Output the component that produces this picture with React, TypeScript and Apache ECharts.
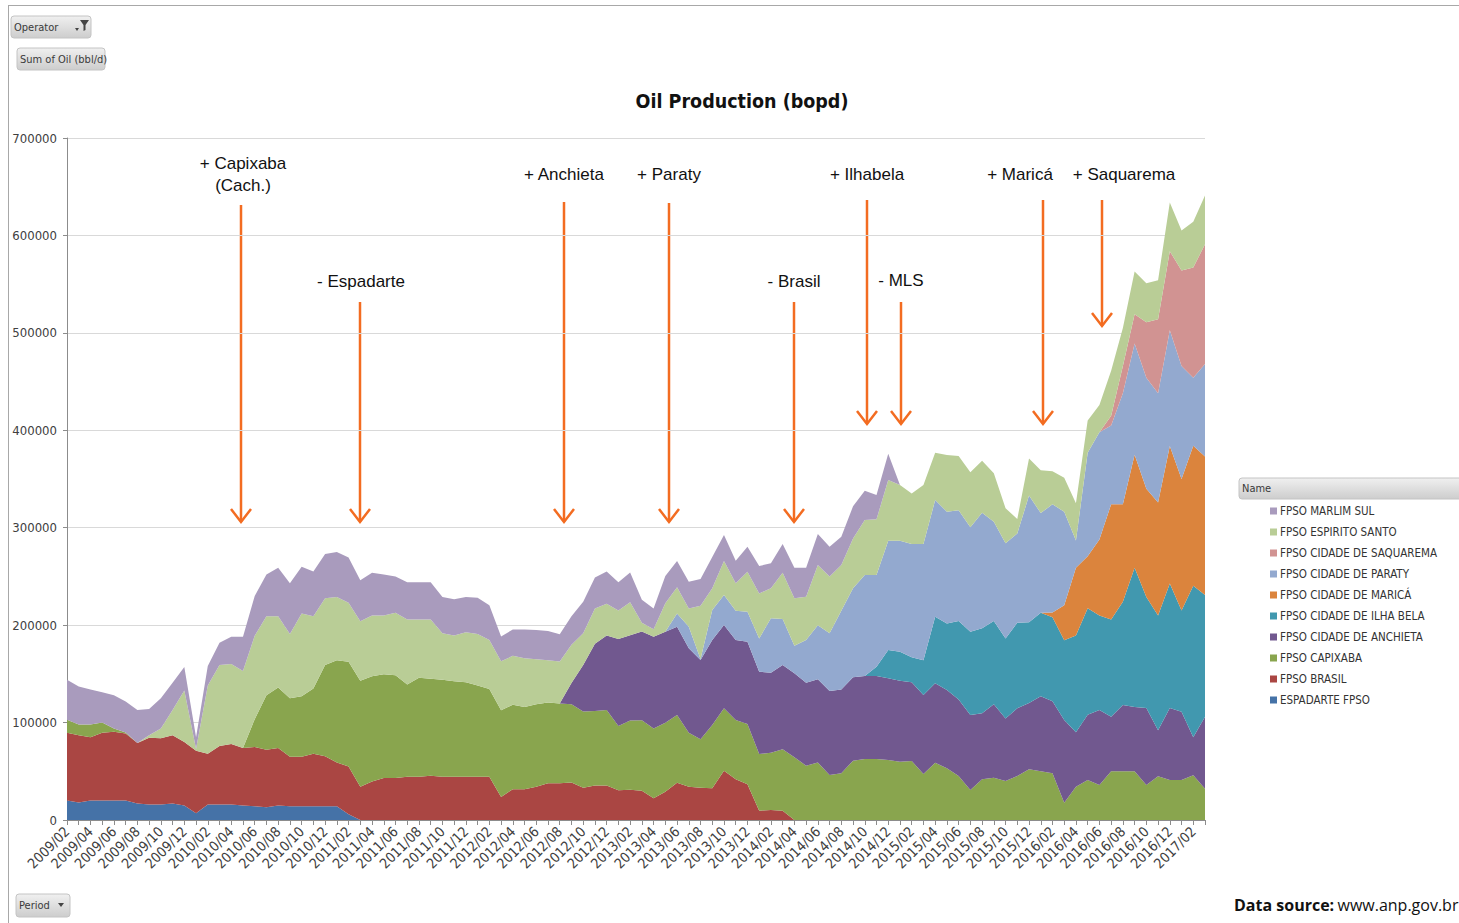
import React, { useEffect, useRef } from "react";
import * as echarts from "echarts";

const months = [
  "2009/02","2009/03","2009/04","2009/05","2009/06","2009/07","2009/08","2009/09","2009/10","2009/11","2009/12",
  "2010/01","2010/02","2010/03","2010/04","2010/05","2010/06","2010/07","2010/08","2010/09","2010/10","2010/11","2010/12",
  "2011/01","2011/02","2011/03","2011/04","2011/05","2011/06","2011/07","2011/08","2011/09","2011/10","2011/11","2011/12",
  "2012/01","2012/02","2012/03","2012/04","2012/05","2012/06","2012/07","2012/08","2012/09","2012/10","2012/11","2012/12",
  "2013/01","2013/02","2013/03","2013/04","2013/05","2013/06","2013/07","2013/08","2013/09","2013/10","2013/11","2013/12",
  "2014/01","2014/02","2014/03","2014/04","2014/05","2014/06","2014/07","2014/08","2014/09","2014/10","2014/11","2014/12",
  "2015/01","2015/02","2015/03","2015/04","2015/05","2015/06","2015/07","2015/08","2015/09","2015/10","2015/11","2015/12",
  "2016/01","2016/02","2016/03","2016/04","2016/05","2016/06","2016/07","2016/08","2016/09","2016/10","2016/11","2016/12",
  "2017/01","2017/02","2017/03"
];

// values in thousand bbl/d
const espadarte = [
  20,18,20,20,20,20,17,16,16,17,15,7,16,16,16,15,14,13,15,14,14,14,14,14,6,
  0,0,0,0,0,0,0,0,0,0,0,0,0,0,0,0,0,0,0,0,0,0,0,0,0,0,0,0,0,0,0,0,0,0,0,0,
  0,0,0,0,0,0,0,0,0,0,0,0,0,0,0,0,0,0,0,0,0,0,0,0,0,0,0,0,0,0,0,0,0,0,0,0,0
];
const brasil = [
  69.6,69,65,69.6,70.5,68.7,62,68.5,68,70,
  65,64,52,60,62,59,61,59,59,51,
  51,54,51.5,45,49,34,39.5,43,43,44.5,
  44.5,45.5,44.5,44.5,44.5,44.5,44.5,23.7,31.6,31.6,
  34,37.6,37.6,38.5,33,35.3,35.3,30.6,31,30,
  22.2,29.1,38.3,34.2,33.2,32.5,50.6,41.7,36.6,9.6,
  10.3,9.6,
  0,0,0,0,0,0,0,0,0,0,0,0,0,0,0,0,0,0,0,0,0,0,0,0,0,0,0,0,0,0,0,0,0,0,0,0
];
const capixaba = [
  13.4,11,13,10.4,3.5,1,0,0,0,0,
  0,0,0,0,0,0,28.5,56,62,60,
  62,67,93.5,105,107.5,109,108,106.5,105.6,94.5,
  101.5,99.5,99.5,98,97,93.5,90,89,86.8,84.4,
  84.8,83,82,80.3,78.4,76.6,77.5,66,71,72.3,
  71.8,70.8,69.5,55.4,49.6,65,64,60.9,61.9,58.1,
  58.8,62.9,64.3,55.8,59,46.2,47.9,60.9,62.6,62.6,
  61.6,59.9,60.6,47.2,58.8,53,45.2,30.8,41.7,43.4,
  40,45.2,52,50,48,17.6,34,41,36,50,
  50,50,36,45,41,41,46,32
];
const anchieta = [
  0,0,0,0,0,0,0,0,0,0,0,0,0,0,0,0,0,0,0,0,0,0,0,0,0,0,0,0,0,0,0,0,0,0,0,0,0,0,0,0,0,0,0,
  21.9,47.6,69.1,76.6,89.1,87.6,91.3,
  94.2,93.4,90.6,86.6,81.4,87.2,85.5,82.1,84.5,84.5,
  82.1,86.6,86.2,85.2,85.5,86.3,86.1,85.5,85.2,85.2,
  83.8,83.1,80.7,81.1,81.5,80.4,78.6,77,67.8,75.3,
  64.3,69.4,68,77,74,85,56,67,77,56,
  68,66,79,47,74,70,39,74
];
const ilhaBela = [
  0,0,0,0,0,0,0,0,0,0,0,0,0,0,0,0,0,0,0,0,0,0,0,0,0,0,0,0,0,0,0,0,0,0,0,0,0,0,0,0,
  0,0,0,0,0,0,0,0,0,0,0,0,0,0,0,0,0,0,0,0,0,0,0,0,0,0,0,0,0,
  9.6,
  29.1,29.8,25.7,35.7,68.4,68.4,80.4,85.5,87.2,85.5,
  82.1,87.9,83,85.6,86,81.8,99.4,109.3,97,99.7,
  106,143,114,118,127.8,104,155.5,125
];
const marica = [
  0,0,0,0,0,0,0,0,0,0,0,0,0,0,0,0,0,0,0,0,0,0,0,0,0,0,0,0,0,0,0,0,0,0,0,0,0,0,0,0,0,0,
  0,0,0,0,0,0,0,0,0,0,0,0,0,0,0,0,0,0,0,0,0,0,0,0,0,0,0,0,0,0,0,0,0,0,0,0,0,0,0,0,0,0,
  5,36,69.6,53.4,78,118.3,
  100,116,111,116,141,135,143.5,142
];
const paraty = [
  0,0,0,0,0,0,0,0,0,0,0,0,0,0,0,0,0,0,0,0,0,0,0,0,0,0,
  0,0,0,0,0,0,0,0,0,0,0,0,0,0,0,0,0,0,0,0,0,0,0,0,0,0,
  13.6,22.2,1,30.8,30.9,30.1,30.8,34.2,
  55.8,47.2,28.4,43.7,55.5,59.1,80.8,91.4,103.6,94,
  112.2,113.9,116.3,119.3,119.7,114.6,113.8,107.1,118.7,101.8,
  97.6,91.5,130,102.4,111,96,28,106.3,110,81,
  114,114,114,112,119,116,70,95
];
const saquarema = [
  0,0,0,0,0,0,0,0,0,0,0,0,0,0,0,0,0,0,0,0,0,0,0,0,0,0,0,0,0,0,
  0,0,0,0,0,0,0,0,0,0,0,0,0,0,0,0,0,0,0,0,0,0,0,0,0,0,0,0,0,0,
  0,0,0,0,0,0,0,0,0,0,0,0,0,0,0,0,0,0,0,0,0,0,0,0,0,0,0,0,0,
  10,28,30,57,76,81,98,113,123
];
const espiritoSanto = [
  0,0,0,0,0,0,0,2.5,10,26,
  53,2,70,83,82,79,85.5,81,73,66,
  85,74,68.5,65,60.5,61,62.4,60.5,64,66.7,
  59.7,60.7,47.7,46.9,51.1,53,50.2,50.2,50.1,50,
  46.2,43.3,43.2,39.3,32.7,36,32.6,29.3,33.9,8.8,
  7.5,29.1,26.8,18.8,54.7,22.3,34.8,28.2,41.1,46.2,
  30.8,47.5,48.6,44.5,61.7,58.4,46.9,51.2,56.6,57.2,
  62.3,57.1,51.7,60.5,48.6,58.2,55.6,56.4,53.4,49.8,
  35.9,15,38,44,34,35,38,33,28,46,
  39,44,40,40,50,41,47,50
];
const marlimSul = [
  41,39,36,31,34,32,34,27,31,28,
  24,12,20,23,28,35,41,43,50,52,
  48,46,45.5,46,46.5,42,44,42,37.4,38.3,
  38.3,38.3,37.3,37.2,36.3,37,35.7,25.5,27,29.5,
  30,30,27.8,29,32.3,32,33,29,30.5,23.6,
  21.3,28,27,27.4,27.4,32.2,26.7,23,25.6,28.1,
  25.6,29.5,31.5,29.8,31.8,30.5,29.1,33,30,24.9,
  27,
  0,0,0,0,0,0,0,0,0,0,0,0,0,0,0,0,0,0,0,0,0,0,0,0,0,0,0
];

const seriesNames = [
  "ESPADARTE FPSO","FPSO BRASIL","FPSO CAPIXABA","FPSO CIDADE DE ANCHIETA","FPSO CIDADE DE ILHA BELA",
  "FPSO CIDADE DE MARICÁ","FPSO CIDADE DE PARATY","FPSO CIDADE DE SAQUAREMA","FPSO ESPIRITO SANTO","FPSO MARLIM SUL"
];
const seriesValues = [espadarte, brasil, capixaba, anchieta, ilhaBela, marica, paraty, saquarema, espiritoSanto, marlimSul];
const seriesColors = ["#4572A7","#AA4643","#89A54E","#71588F","#4198AF","#DB843D","#93A9CF","#D19392","#B9CD96","#A99BBD"];

const yTicks = { min: 0, max: 700000, interval: 100000 };

// annotation layout (pixels)
const annotations = [
  { text: "+ Capixaba\n(Cach.)", tx: 243, ty: 152, ax: 241, a1: 205, a2: 522 },
  { text: "- Espadarte", tx: 361, ty: 270, ax: 360, a1: 302, a2: 522 },
  { text: "+ Anchieta", tx: 564, ty: 163, ax: 564, a1: 202, a2: 522 },
  { text: "+ Paraty", tx: 669, ty: 163, ax: 669, a1: 203, a2: 522 },
  { text: "- Brasil", tx: 794, ty: 270, ax: 794, a1: 302, a2: 522 },
  { text: "+ Ilhabela", tx: 867, ty: 163, ax: 867, a1: 200, a2: 424 },
  { text: "- MLS", tx: 901, ty: 269, ax: 901, a1: 302, a2: 424 },
  { text: "+ Maricá", tx: 1020, ty: 163, ax: 1043, a1: 200, a2: 424 },
  { text: "+ Saquarema", tx: 1124, ty: 163, ax: 1102, a1: 200, a2: 326 },
];

const NARROW = "'Liberation Sans Narrow', 'DejaVu Sans Condensed', 'Roboto', sans-serif";
const ARROW = "#F36C21";

function button(x: number, y: number, w: number, h: number, label: string, extra: any[] = []) {
  return {
    type: "group",
    children: [
      {
        type: "rect",
        shape: { x, y, width: w, height: h, r: 3 },
        style: {
          fill: { type: "linear", x: 0, y: 0, x2: 0, y2: 1, colorStops: [{ offset: 0, color: "#f0f0f0" }, { offset: 1, color: "#cdcdcd" }] },
          stroke: "#c4c4c4",
          lineWidth: 1,
        },
      },
      {
        type: "text",
        x: x + 3,
        y: y + h / 2,
        style: { text: label, font: `11px ${NARROW}`, fill: "#3a3a3a", verticalAlign: "middle" },
      },
      ...extra,
    ],
  };
}

export default function App() {
  const ref = useRef<HTMLDivElement>(null);

  useEffect(() => {
    document.body.style.margin = "0";
    const chart = echarts.init(ref.current!, null, { renderer: "svg" });

    const series = seriesNames.map((name, k) => ({
      name,
      type: "line",
      stack: "oil",
      data: seriesValues[k].map((v) => Math.round(v * 1000)),
      symbol: "none",
      showSymbol: false,
      lineStyle: { width: 0 },
      itemStyle: { color: seriesColors[k] },
      areaStyle: { color: seriesColors[k], opacity: 1 },
    }));

    const graphics: any[] = [
      { type: "line", shape: { x1: 8, y1: 5.5, x2: 1459, y2: 5.5 }, style: { stroke: "#a8a8a8", lineWidth: 1 } },
      { type: "line", shape: { x1: 8.5, y1: 5, x2: 8.5, y2: 923 }, style: { stroke: "#a8a8a8", lineWidth: 1 } },
      button(11, 16, 80, 22, "Operator", [
        { type: "polygon", shape: { points: [[80, 20], [89, 20], [85.5, 25], [85.5, 30], [83.5, 31], [83.5, 25]] }, style: { fill: "#444" } },
        { type: "polygon", shape: { points: [[75, 28], [79, 28], [77, 31]] }, style: { fill: "#444" } },
      ]),
      button(17, 48, 88, 22, "Sum of Oil (bbl/d)"),
      button(16, 894, 54, 23, "Period", [
        { type: "polygon", shape: { points: [[58, 903], [64, 903], [61, 907]] }, style: { fill: "#444" } },
      ]),
      button(1239, 478, 225, 21, "Name"),
      {
        type: "text",
        x: 742,
        y: 101,
        style: { text: "Oil Production (bopd)", font: `bold 19.5px ${NARROW}`, fill: "#111", align: "center", verticalAlign: "middle" },
      },
      {
        type: "text",
        x: 1234,
        y: 905,
        style: {
          text: "{b|Data source:} {n|www.anp.gov.br}",
          verticalAlign: "middle",
          rich: {
            b: { fontFamily: "'Open Sans', sans-serif", fontWeight: "bold", fontSize: 16, fill: "#111" },
            n: { fontFamily: "'Open Sans', sans-serif", fontSize: 16, fill: "#111" },
          },
        },
      },
    ];

    annotations.forEach((a) => {
      graphics.push({
        type: "text",
        x: a.tx,
        y: a.ty,
        style: {
          text: a.text,
          font: "17px 'Liberation Sans', Arial, sans-serif",
          fill: "#111",
          align: "center",
          verticalAlign: "top",
          lineHeight: 22,
        },
      });
      graphics.push({ type: "line", shape: { x1: a.ax, y1: a.a1, x2: a.ax, y2: a.a2 }, style: { stroke: ARROW, lineWidth: 2.5 } });
      graphics.push({
        type: "polyline",
        shape: { points: [[a.ax - 10, a.a2 - 13], [a.ax, a.a2], [a.ax + 10, a.a2 - 13]] },
        style: { stroke: ARROW, lineWidth: 2.5, fill: "none" },
      });
    });

    chart.setOption({
      animation: false,
      backgroundColor: "#ffffff",
      grid: { left: 67, right: 254, top: 138, bottom: 103, containLabel: false },
      legend: {
        data: seriesNames.slice().reverse(),
        orient: "vertical",
        left: 1265,
        top: 500,
        icon: "rect",
        itemWidth: 7,
        itemHeight: 7,
        itemGap: 9,
        textStyle: { fontSize: 11.5, lineHeight: 12, color: "#333", fontFamily: NARROW, padding: [0, 0, 0, -2] },
        selectedMode: false,
      },
      xAxis: {
        type: "category",
        data: months,
        boundaryGap: false,
        axisLine: { lineStyle: { color: "#8c8c8c" } },
        axisTick: { show: true, interval: 0, length: 5, lineStyle: { color: "#8c8c8c" } },
        axisLabel: { interval: 1, rotate: 45, fontSize: 14, color: "#404040", margin: 9, fontFamily: NARROW },
        splitLine: { show: false },
      },
      yAxis: {
        type: "value",
        min: yTicks.min,
        max: yTicks.max,
        interval: yTicks.interval,
        axisLine: { show: true, lineStyle: { color: "#8c8c8c" } },
        axisTick: { show: true, length: 4, lineStyle: { color: "#8c8c8c" } },
        axisLabel: { fontSize: 13, color: "#404040", margin: 10, fontFamily: NARROW, formatter: (v: number) => String(v) },
        splitLine: { lineStyle: { color: "#d9d9d9" } },
      },
      series,
      graphic: graphics,
    });

    return () => chart.dispose();
  }, []);

  return <div ref={ref} style={{ width: 1459, height: 923 }} />;
}
